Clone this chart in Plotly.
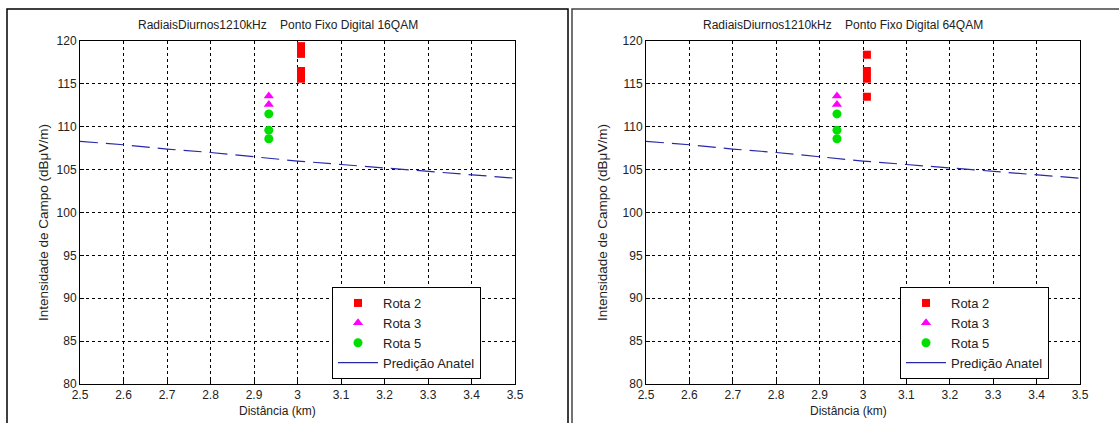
import plotly.graph_objects as go

# ---- data ----
x_ticks = [2.5, 2.6, 2.7, 2.8, 2.9, 3.0, 3.1, 3.2, 3.3, 3.4, 3.5]
x_tick_labels = ["2.5", "2.6", "2.7", "2.8", "2.9", "3", "3.1", "3.2", "3.3", "3.4", "3.5"]
y_ticks = [80, 85, 90, 95, 100, 105, 110, 115, 120]

pred_x = [2.5, 2.6, 2.7, 2.8, 2.9, 3.0, 3.1, 3.2, 3.3, 3.4, 3.5]
pred_y = [108.3, 107.9, 107.4, 107.0, 106.5, 106.0, 105.6, 105.2, 104.8, 104.4, 104.0]

# 16QAM panel
l_rota2_x = [3.008, 3.008, 3.008, 3.008]
l_rota2_y = [119.4, 118.5, 116.5, 115.6]
l_rota3_x = [2.934, 2.934]
l_rota3_y = [113.6, 112.6]
l_rota5_x = [2.934, 2.934, 2.934]
l_rota5_y = [111.5, 109.6, 108.6]

# 64QAM panel
r_rota2_x = [3.009, 3.009, 3.009, 3.009]
r_rota2_y = [118.4, 116.5, 115.6, 113.5]
r_rota3_x = [2.940, 2.940]
r_rota3_y = [113.6, 112.6]
r_rota5_x = [2.940, 2.940, 2.940]
r_rota5_y = [111.5, 109.6, 108.6]

titles = ["RadiaisDiurnos1210kHz    Ponto Fixo Digital 16QAM",
          "RadiaisDiurnos1210kHz    Ponto Fixo Digital 64QAM"]
y_title = "Intensidade de Campo (dBμV/m)"
x_title = "Distância (km)"
names = ["Rota 2", "Rota 3", "Rota 5", "Predição Anatel"]

W, H = 1119, 423
FONT = "Liberation Sans, Arial, sans-serif"
RED, MAG, GRN, BLU = "#ff0000", "#ff00ff", "#00e000", "rgb(40,40,170)"

fig = go.Figure()

panels = [
    dict(xa="x", ya="y", legend="legend",
         r2=(l_rota2_x, l_rota2_y), r3=(l_rota3_x, l_rota3_y), r5=(l_rota5_x, l_rota5_y)),
    dict(xa="x2", ya="y2", legend="legend2",
         r2=(r_rota2_x, r_rota2_y), r3=(r_rota3_x, r_rota3_y), r5=(r_rota5_x, r_rota5_y)),
]

for p in panels:
    fig.add_trace(go.Scatter(x=p["r2"][0], y=p["r2"][1], mode="markers", name=names[0],
                             marker=dict(symbol="square", size=8, color=RED),
                             xaxis=p["xa"], yaxis=p["ya"], legend=p["legend"]))
    fig.add_trace(go.Scatter(x=p["r3"][0], y=p["r3"][1], mode="markers", name=names[1],
                             marker=dict(symbol="triangle-up", size=9, color=MAG),
                             xaxis=p["xa"], yaxis=p["ya"], legend=p["legend"]))
    fig.add_trace(go.Scatter(x=p["r5"][0], y=p["r5"][1], mode="markers", name=names[2],
                             marker=dict(symbol="circle", size=9, color=GRN),
                             xaxis=p["xa"], yaxis=p["ya"], legend=p["legend"]))
    fig.add_trace(go.Scatter(x=pred_x, y=pred_y, mode="lines", name=names[3], showlegend=False,
                             line=dict(color=BLU, width=1.2, dash="18px,8px"),
                             xaxis=p["xa"], yaxis=p["ya"]))
    fig.add_trace(go.Scatter(x=[None], y=[None], mode="lines", name=names[3],
                             line=dict(color=BLU, width=1.2),
                             xaxis=p["xa"], yaxis=p["ya"], legend=p["legend"]))

def px(v):
    return v / W

def py(v):
    return 1 - v / H

ax_common = dict(showgrid=True, gridcolor="black", gridwidth=1, griddash="3px,3px",
                 showline=True, linecolor="black", linewidth=1, mirror=True,
                 ticks="inside", ticklen=4, tickcolor="black", automargin=False,
                 tickfont=dict(family=FONT, size=12, color="#222"), zeroline=False)

xdoms = [(px(80), px(515)), (px(646), px(1080))]
ydom = (py(384), py(41))

fig.update_layout(
    xaxis=dict(domain=xdoms[0], range=[2.5, 3.5], tickvals=x_ticks, ticktext=x_tick_labels,
               anchor="y", **ax_common),
    yaxis=dict(domain=ydom, range=[80, 120], tickvals=y_ticks, anchor="x", **ax_common),
    xaxis2=dict(domain=xdoms[1], range=[2.5, 3.5], tickvals=x_ticks, ticktext=x_tick_labels,
                anchor="y2", **ax_common),
    yaxis2=dict(domain=ydom, range=[80, 120], tickvals=y_ticks, anchor="x2", **ax_common),
)

leg_common = dict(bgcolor="white", bordercolor="black", borderwidth=1,
                  font=dict(family=FONT, size=13, color="#222"),
                  xanchor="left", yanchor="top", tracegroupgap=0, itemwidth=40)
fig.update_layout(
    legend=dict(x=px(332), y=py(287), **leg_common),
    legend2=dict(x=px(900), y=py(287), **leg_common),
)

anns = []
for i, (cx, lx, xc) in enumerate([(278, 43, 277), (843, 602, 848)]):
    anns.append(dict(text=titles[i], x=px(cx), y=py(25), xref="paper", yref="paper",
                     showarrow=False, font=dict(family=FONT, size=12, color="#222"),
                     xanchor="center", yanchor="middle"))
    anns.append(dict(text=y_title, x=px(lx), y=py(223), xref="paper", yref="paper",
                     showarrow=False, textangle=-90, font=dict(family=FONT, size=13.5, color="#222"),
                     xanchor="center", yanchor="middle"))
    anns.append(dict(text=x_title, x=px(xc), y=py(411), xref="paper", yref="paper",
                     showarrow=False, font=dict(family=FONT, size=12, color="#222"),
                     xanchor="center", yanchor="middle"))

shapes = [
    dict(type="rect", xref="paper", yref="paper", x0=px(7), x1=px(568), y0=py(430), y1=py(9),
         line=dict(color="black", width=1.5)),
    dict(type="rect", xref="paper", yref="paper", x0=px(572), x1=px(1130), y0=py(430), y1=py(9),
         line=dict(color="#444", width=1.5)),
]

fig.update_layout(width=W, height=H, margin=dict(l=0, r=0, t=0, b=0, autoexpand=False),
                  paper_bgcolor="white", plot_bgcolor="white",
                  annotations=anns, shapes=shapes,
                  font=dict(family=FONT, size=12, color="#222"))

fig.write_html("out.html", config={"displayModeBar": False},
               post_script="document.body.style.margin='0';document.body.style.overflow='hidden';")
